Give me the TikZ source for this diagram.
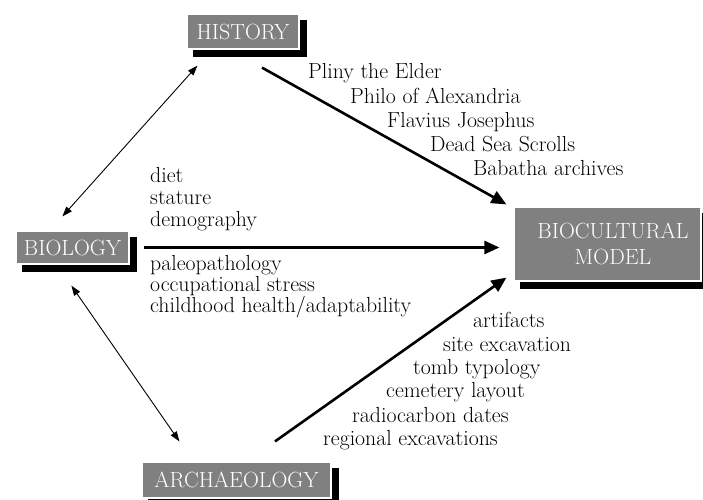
\documentclass[tikz,border=0pt]{standalone}
\usetikzlibrary{arrows.meta,backgrounds}
\definecolor{boxgray}{RGB}{128,128,128}
\begin{document}
\begin{tikzpicture}[x=1pt,y=-1pt,
  box/.style={fill=boxgray, draw=white, line width=1.2pt, text=white, inner sep=0pt,
    font=\fontsize{22}{26}\selectfont, align=center},
  lbl/.style={anchor=base west, inner sep=0pt, font=\fontsize{21.8}{23}\selectfont},
  bigarrow/.style={line width=2.6pt, -{Triangle[length=15pt,width=13pt]}},
  twoway/.style={line width=0.9pt, {Triangle[length=10pt,width=7pt]}-{Triangle[length=10pt,width=7pt]}}]
\useasboundingbox (0,0) rectangle (703,499);

% boxes
\node[box, minimum width=112pt, minimum height=35pt] (hist) at (243,31.5) {HISTORY};
\node[box, minimum width=113pt, minimum height=33pt] (bio) at (72.5,247.5) {BIOLOGY};
\node[box, minimum width=187pt, minimum height=74pt] (model) at (607.5,244)
  {\hspace*{11pt}BIOCULTURAL\\\hspace*{11pt}MODEL};
\node[box, minimum width=189pt, minimum height=36pt] (arch) at (236.5,480) {ARCHAEOLOGY};

\begin{scope}[on background layer]
  \foreach \n in {hist,bio,model,arch}
    \fill[black] ([shift={(7,7)}]\n.north west) rectangle ([shift={(7,7)}]\n.south east);
\end{scope}

% connectors
\draw[twoway] ([shift={(11,16)}]hist.south west) -- ([shift={(47,-14)}]bio.north west);
\draw[twoway] ([shift={(56,21)}]bio.south west) -- ([shift={(38,-20)}]arch.north west);
\draw[bigarrow] ([shift={(19,18)}]hist.south) -- ([shift={(-7,-2)}]model.north west);
\draw[bigarrow] ([xshift=14pt]bio.east) -- ([xshift=-14pt]model.west |- bio.east);
\draw[bigarrow] ([shift={(38.5,-20)}]arch.north) -- ([shift={(-7,-4)}]model.south west);

% history sources
\node[lbl] (h1) at (308,78) {Pliny the Elder};
\node[lbl] (h2) at (350,103) {Philo of Alexandria};
\node[lbl] (h3) at (387,127) {Flavius Josephus};
\node[lbl] (h4) at (430,151) {Dead Sea Scrolls};
\node[lbl] (h5) at (473,175) {Babatha archives};

% biology sources
\node[lbl] (b1) at (150,182) {diet};
\node[lbl] (b2) at (150,204) {stature};
\node[lbl] (b3) at (150,226) {demography};
\node[lbl] (b4) at (150,270) {paleopathology};
\node[lbl] (b5) at (150,291) {occupational stress};
\node[lbl] (b6) at (150,312) {childhood health/adaptability};

% archaeology sources
\node[lbl] (a1) at (473,327) {artifacts};
\node[lbl] (a2) at (443,351) {site excavation};
\node[lbl] (a3) at (413,374) {tomb typology};
\node[lbl] (a4) at (386,397) {cemetery layout};
\node[lbl] (a5) at (352,422) {radiocarbon dates};
\node[lbl] (a6) at (323,445) {regional excavations};
\end{tikzpicture}
\end{document}
